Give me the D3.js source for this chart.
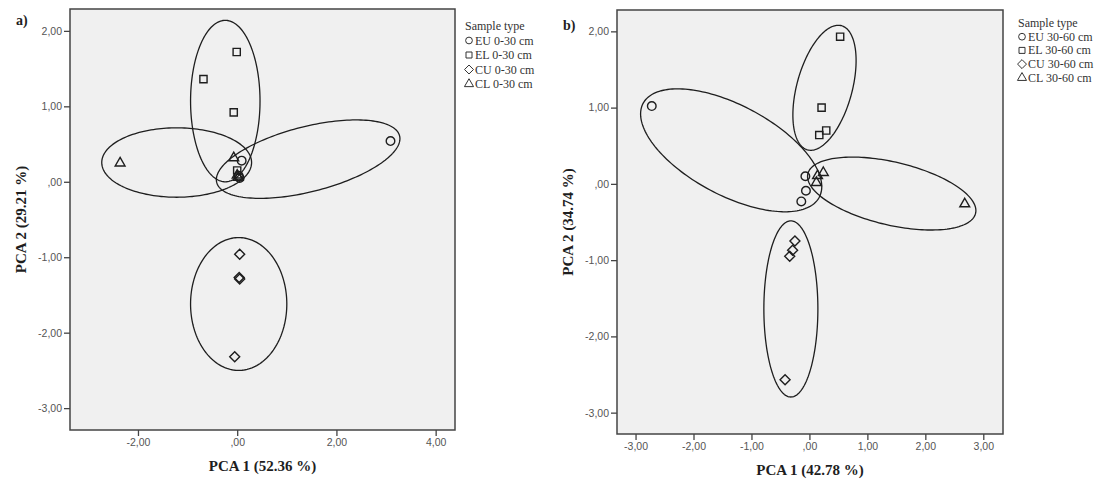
<!DOCTYPE html>
<html>
<head>
<meta charset="utf-8">
<script src="https://cdn.jsdelivr.net/npm/d3@7"></script>
<style>
  html, body { margin: 0; padding: 0; background: #ffffff; }
  svg { display: block; }
</style>
</head>
<body>
<svg id="chart" width="1107" height="483"></svg>
<script>
// ---------------- DATA ----------------
const groups = ["EU", "EL", "CU", "CL"];
const symbolTypes = ["circle", "square", "diamond", "triangle"];

// Panel a (0-30 cm) scores [PCA1, PCA2]
const aEU = [[3.09, 0.54], [0.09, 0.28], [0.05, 0.05], [0.03, 0.08]];
const aEL = [[-0.01, 1.72], [-0.68, 1.36], [-0.07, 0.92], [0.00, 0.15]];
const aCU = [[0.05, -0.96], [0.04, -1.27], [0.05, -1.29], [-0.05, -2.32]];
const aCL = [[-2.36, 0.26], [-0.07, 0.33], [0.00, 0.10], [0.02, 0.07]];

// Panel b (30-60 cm) scores
const bEU = [[-2.72, 1.02], [-0.07, 0.10], [-0.06, -0.09], [-0.14, -0.23]];
const bEL = [[0.53, 1.93], [0.21, 1.00], [0.29, 0.70], [0.17, 0.64]];
const bCU = [[-0.25, -0.75], [-0.29, -0.87], [-0.34, -0.95], [-0.42, -2.57]];
const bCL = [[2.68, -0.25], [0.24, 0.16], [0.12, 0.03], [0.14, 0.12]];

// Group ellipses in data units: [centre x, centre y, half-axis A (x,y), half-axis B (x,y)]
const aEllipses = [
  [1.43, 0.30, 1.843, 0.309, 0.161, -0.418],
  [-0.24, 1.07, 0.70, 0.0, 0.0, 1.07],
  [0.03, -1.62, 0.97, 0.0, 0.0, 0.88],
  [-1.22, 0.255, 1.51, 0.0, 0.0, 0.46]
];
const bEllipses = [
  [-1.35, 0.44, 1.52, -0.615, -0.364, -0.521],
  [0.26, 1.26, 0.293, 0.814, 0.46, -0.096],
  [-0.32, -1.64, 0.466, 0.0, 0.0, 1.155],
  [1.42, -0.127, 1.447, -0.259, -0.124, -0.402]
];

// Axis ticks and labels
const aXTicks = [-2, 0, 2, 4];
const aXLabels = ["-2,00", ",00", "2,00", "4,00"];
const aYTicks = [2, 1, 0, -1, -2, -3];
const aYLabels = ["2,00", "1,00", ",00", "-1,00", "-2,00", "-3,00"];
const bXTicks = [-3, -2, -1, 0, 1, 2, 3];
const bXLabels = ["-3,00", "-2,00", "-1,00", ",00", "1,00", "2,00", "3,00"];
const bYTicks = [2, 1, 0, -1, -2, -3];
const bYLabels = ["2,00", "1,00", ",00", "-1,00", "-2,00", "-3,00"];

const aLegend = ["EU 0-30 cm", "EL 0-30 cm", "CU 0-30 cm", "CL 0-30 cm"];
const bLegend = ["EU 30-60 cm", "EL 30-60 cm", "CU 30-60 cm", "CL 30-60 cm"];

const panels = [
  {
    tag: "a)", series: [aEU, aEL, aCU, aCL], ellipses: aEllipses,
    xDomain: [-3.37, 4.39], yDomain: [-3.29, 2.29],
    box: { left: 70, right: 455, top: 9, bottom: 430 },
    xTicks: aXTicks, xLabels: aXLabels, yTicks: aYTicks, yLabels: aYLabels,
    xTitle: "PCA 1 (52.36 %)", yTitle: "PCA 2 (29.21 %)",
    legend: aLegend, legendPos: { x: 465, y: 30, dy: 14.5 },
    tagPos: { x: 16, y: 25 }, yTitleX: 21
  },
  {
    tag: "b)", series: [bEU, bEL, bCU, bCL], ellipses: bEllipses,
    xDomain: [-3.32, 3.34], yDomain: [-3.28, 2.28],
    box: { left: 617, right: 1003, top: 10, bottom: 434 },
    xTicks: bXTicks, xLabels: bXLabels, yTicks: bYTicks, yLabels: bYLabels,
    xTitle: "PCA 1 (42.78 %)", yTitle: "PCA 2 (34.74 %)",
    legend: bLegend, legendPos: { x: 1018, y: 27, dy: 13.7 },
    tagPos: { x: 563, y: 30 }, yTitleX: 568
  }
];

// ---------------- DRAW ----------------
const svg = d3.select("#chart");
const serif = "'Liberation Serif', 'Times New Roman', serif";
const tickFont = "'Liberation Sans', Arial, sans-serif";
const ink = "#1e1e1e";

// square-rotated diamond, as in SPSS
const diamondSym = {
  draw(ctx, size) {
    const r = Math.sqrt(size / 2);
    ctx.moveTo(0, -r); ctx.lineTo(r, 0); ctx.lineTo(0, r); ctx.lineTo(-r, 0); ctx.closePath();
  }
};
function symbolPath(type, size) {
  const t = { circle: d3.symbolCircle, square: d3.symbolSquare,
              diamond: diamondSym, triangle: d3.symbolTriangle }[type];
  return d3.symbol().type(t).size(size)();
}

panels.forEach(p => {
  const x = d3.scaleLinear().domain(p.xDomain).range([p.box.left, p.box.right]);
  const y = d3.scaleLinear().domain(p.yDomain).range([p.box.bottom, p.box.top]);
  const g = svg.append("g");

  // plot background
  g.append("rect")
    .attr("x", p.box.left).attr("y", p.box.top)
    .attr("width", p.box.right - p.box.left).attr("height", p.box.bottom - p.box.top)
    .attr("fill", "#f0f0f0");

  // axes
  const yAxis = d3.axisLeft(y).tickValues(p.yTicks)
    .tickFormat((d, i) => p.yLabels[i]).tickSize(6).tickPadding(2);
  const xAxis = d3.axisBottom(x).tickValues(p.xTicks)
    .tickFormat((d, i) => p.xLabels[i]).tickSize(6).tickPadding(3);

  const ya = g.append("g").attr("transform", `translate(${p.box.left},0)`).call(yAxis);
  const xa = g.append("g").attr("transform", `translate(0,${p.box.bottom})`).call(xAxis);
  [ya, xa].forEach(a => {
    a.select(".domain").remove();
    a.selectAll(".tick line").attr("stroke", "#444").attr("stroke-width", 1.3);
    a.selectAll(".tick text").attr("fill", "#555").style("font-family", tickFont).style("font-size", "10.5px");
  });

  // ellipses
  const curve = d3.line().curve(d3.curveLinearClosed);
  p.ellipses.forEach(e => {
    const [cx, cy, ax, ay, bx, by] = e;
    const pts = d3.range(0, 360, 2).map(deg => {
      const t = deg * Math.PI / 180;
      return [x(cx + Math.cos(t) * ax + Math.sin(t) * bx),
              y(cy + Math.cos(t) * ay + Math.sin(t) * by)];
    });
    g.append("path").attr("d", curve(pts))
      .attr("fill", "none").attr("stroke", ink).attr("stroke-width", 1.3);
  });

  // points
  const sizes = { circle: 58, square: 52, diamond: 50, triangle: 42 };
  p.series.forEach((pts, gi) => {
    const type = symbolTypes[gi];
    g.selectAll(null).data(pts).enter().append("path")
      .attr("d", symbolPath(type, sizes[type]))
      .attr("transform", d => `translate(${x(d[0])},${y(d[1])})` + (type === "triangle" ? " translate(0,1)" : ""))
      .attr("fill", "none").attr("stroke", ink).attr("stroke-width", 1.4);
  });

  // frame
  g.append("rect")
    .attr("x", p.box.left).attr("y", p.box.top)
    .attr("width", p.box.right - p.box.left).attr("height", p.box.bottom - p.box.top)
    .attr("fill", "none").attr("stroke", "#444").attr("stroke-width", 1.5);

  // axis titles
  g.append("text")
    .attr("x", (p.box.left + p.box.right) / 2).attr("y", p.box.bottom + 41)
    .attr("text-anchor", "middle")
    .style("font-family", serif).style("font-weight", "bold").style("font-size", "15px")
    .attr("fill", ink).text(p.xTitle);
  g.append("text")
    .attr("transform", `translate(${p.yTitleX},${(p.box.top + p.box.bottom) / 2}) rotate(-90)`)
    .attr("text-anchor", "middle").attr("dy", "0.35em")
    .style("font-family", serif).style("font-weight", "bold").style("font-size", "15px")
    .attr("fill", ink).text(p.yTitle);

  // panel tag
  g.append("text").attr("x", p.tagPos.x).attr("y", p.tagPos.y)
    .style("font-family", serif).style("font-weight", "bold").style("font-size", "14px")
    .attr("fill", ink).text(p.tag);

  // legend
  const lg = g.append("g");
  lg.append("text").attr("x", p.legendPos.x).attr("y", p.legendPos.y)
    .style("font-family", serif).style("font-size", "12px").attr("fill", "#333")
    .text("Sample type");
  p.legend.forEach((lab, i) => {
    const yy = p.legendPos.y + p.legendPos.dy * (i + 1);
    const type = symbolTypes[i];
    lg.append("path")
      .attr("d", symbolPath(type, type === "diamond" ? 40 : 36))
      .attr("transform", `translate(${p.legendPos.x + 4},${yy - 4})`)
      .attr("fill", "none").attr("stroke", "#333").attr("stroke-width", 1);
    lg.append("text").attr("x", p.legendPos.x + 10).attr("y", yy)
      .style("font-family", serif).style("font-size", "12px").attr("fill", "#333")
      .text(lab);
  });
});
</script>
</body>
</html>
